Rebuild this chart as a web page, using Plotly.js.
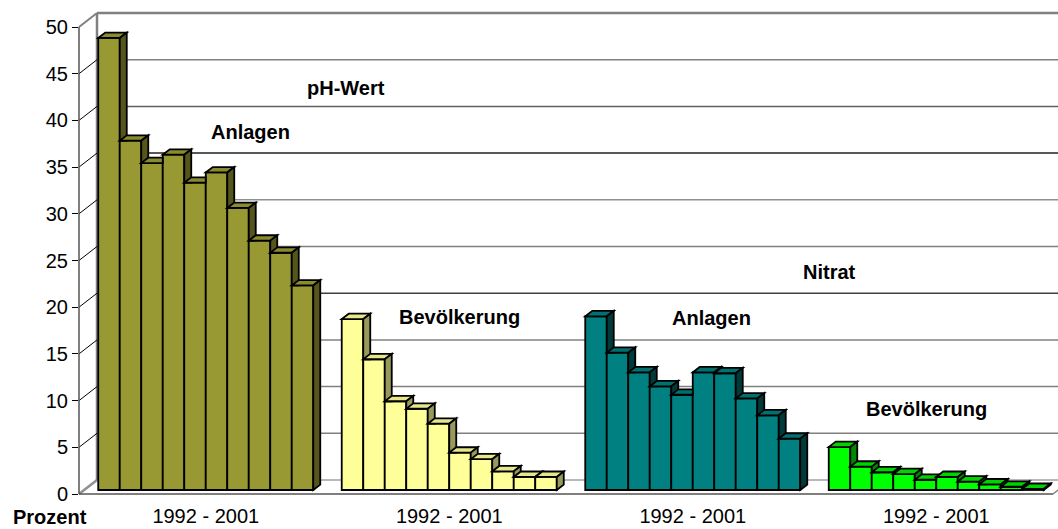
<!DOCTYPE html>
<html>
<head>
<meta charset="utf-8">
<script src="https://cdn.plot.ly/plotly-3.0.1.min.js"></script>
<style>html,body{margin:0;padding:0;background:#fff;}#chart{width:1058px;height:529px;}</style>
</head>
<body>
<div id="chart"></div>
<script>
// ---------- data ----------
const years = [1992, 1993, 1994, 1995, 1996, 1997, 1998, 1999, 2000, 2001];
const periodLabels = ["1992 - 2001", "1992 - 2001", "1992 - 2001", "1992 - 2001"];
const phAnlagen          = [48.4, 37.4, 35.0, 35.9, 32.9, 34.0, 30.2, 26.7, 25.4, 21.9];
const phBevoelkerung     = [18.3, 14.0, 9.5, 8.7, 7.1, 4.0, 3.3, 2.0, 1.4, 1.4];
const nitratAnlagen      = [18.6, 14.7, 12.6, 11.1, 10.2, 12.6, 12.5, 9.8, 8.0, 5.5];
const nitratBevoelkerung = [4.6, 2.5, 1.9, 1.7, 1.1, 1.4, 0.9, 0.6, 0.35, 0.12];
const yTickValues = [0, 5, 10, 15, 20, 25, 30, 35, 40, 45, 50];

// ---------- styling / geometry ----------
const groups = [phAnlagen, phBevoelkerung, nitratAnlagen, nitratBevoelkerung];
const frontColors = ['#999933', '#FFFF99', '#008080', '#00FF00'];
const topColors   = ['#8a8a2e', '#e6e68a', '#007070', '#00d400'];
const sideColors  = ['#55551c', '#99995c', '#003a3a', '#008800'];

const FONT = 'Liberation Sans, Arial, sans-serif';
const PL = 79, PT = 13, PW = 979, PH = 481;        // plot area in px
const Y_RANGE = [0, 51.5];                           // front-plane axis
const PXY = PH / (Y_RANGE[1] - Y_RANGE[0]);          // px per unit
const BAR_SHIFT_PX = 4;                              // bars sit a little behind the front plane
const Y2_RANGE = [Y_RANGE[0] - BAR_SHIFT_PX / PXY, Y_RANGE[1] - BAR_SHIFT_PX / PXY];
const X_RANGE = [(PL - 205.75) / 243.5, (PL + PW - 205.75) / 243.5];
const PXX = PW / (X_RANGE[1] - X_RANGE[0]);
const BARGAP = 0.117;
const NS = years.length;
const BW = (1 - BARGAP) / NS;
const DXU = 7 / PXX, DYU = 5.4 / PXY;                // bar depth in data units
const WALL_DX = 18, WALL_DY = 14;                    // wall depth in px
const EDGE_W = 1.8;

// ---------- traces ----------
const traces = [];
traces.push({type: 'scatter', x: [], y: [], xaxis: 'x', yaxis: 'y', showlegend: false, hoverinfo: 'skip'});
for (let i = 0; i < NS; i++) {
  traces.push({
    type: 'bar',
    name: String(years[i]),
    x: groups.map((g, k) => k),
    y: groups.map(g => g[i]),
    xaxis: 'x', yaxis: 'y2',
    marker: {color: frontColors, line: {color: '#000000', width: EDGE_W}},
    showlegend: false
  });
}

// ---------- 3D faces (shapes computed from the values) ----------
function clipAbove(poly, yc) {
  const out = [];
  const n = poly.length;
  for (let k = 0; k < n; k++) {
    const cur = poly[k], prev = poly[(k + n - 1) % n];
    const cIn = cur[1] >= yc, pIn = prev[1] >= yc;
    const inter = () => { const t = (yc - prev[1]) / (cur[1] - prev[1]); return [prev[0] + t * (cur[0] - prev[0]), yc]; };
    if (cIn) { if (!pIn) out.push(inter()); out.push(cur); }
    else if (pIn) out.push(inter());
  }
  return out;
}
function pathOf(poly) {
  return 'M ' + poly.map(p => p[0].toFixed(5) + ',' + p[1].toFixed(5)).join(' L ') + ' Z';
}
const shapes = [];

// frame (paper coords)
const fx = px => (px - PL) / PW;
const fyFront = v => (v - Y_RANGE[0]) / (Y_RANGE[1] - Y_RANGE[0]);
const fyBack = v => fyFront(v) + WALL_DY / PH;
const bx = fx(PL + WALL_DX);
function pline(x0, y0, x1, y1, color, width) {
  shapes.push({type: 'line', xref: 'paper', yref: 'paper', x0, y0, x1, y1, layer: 'below',
               line: {color, width}});
}
const gridColors = {0: '#a0a0a0', 5: '#808080', 10: '#808080', 15: '#808080', 20: '#404040', 25: '#808080',
                    30: '#909090', 35: '#202020', 40: '#606060', 45: '#808080'};
yTickValues.forEach(v => {
  if (v === 50) return;
  pline(bx, fyBack(v), 1.05, fyBack(v), gridColors[v], 1.5);
});
pline(bx, fyBack(50), 1.05, fyBack(50), '#808080', 2.5);
pline(bx, fyBack(0), bx, fyBack(50), '#808080', 2.5);
yTickValues.forEach(v => {
  if (v === 0 || v === 50) return;
  pline(0, fyFront(v), bx, fyBack(v), '#000000', 1);
});
pline(0, fyFront(50), bx, fyBack(50), '#808080', 2);
pline(0, fyFront(0), bx, fyBack(0), '#909090', 2.5);
pline(0, fyFront(0), 0, fyFront(50), '#555555', 1.5);
const frontRight = fx(1053);
pline(0, fyFront(0), frontRight, fyFront(0), '#555555', 1.5);
pline(frontRight, fyFront(0), frontRight + WALL_DX / PW, fyBack(0), '#808080', 1.5);

// bar faces
groups.forEach((vals, g) => {
  for (let i = 0; i < NS; i++) {
    const xc = g + (i - (NS - 1) / 2) * BW;
    const L = xc - BW / 2, R = xc + BW / 2;
    const v = vals[i];
    const vn = (i < NS - 1) ? vals[i + 1] : -Infinity;
    // top face
    let top;
    if (vn <= v) top = [[L, v], [R, v], [R + DXU, v + DYU], [L + DXU, v + DYU]];
    else if (vn >= v + DYU) top = [[L, v], [R, v], [R, v + DYU], [L + DXU, v + DYU]];
    else {
      const t = (vn - v) / DYU;
      top = [[L, v], [R, v], [R, vn], [R + DXU * t, vn], [R + DXU, v + DYU], [L + DXU, v + DYU]];
    }
    shapes.push({type: 'path', xref: 'x', yref: 'y2', path: pathOf(top), fillcolor: topColors[g],
                 line: {color: '#000000', width: EDGE_W}, layer: 'above'});
    // side face
    let side = [[R, 0], [R + DXU, DYU], [R + DXU, v + DYU], [R, v]];
    if (isFinite(vn)) side = clipAbove(side, vn);
    if (side.length >= 3) {
      shapes.push({type: 'path', xref: 'x', yref: 'y2', path: pathOf(side), fillcolor: sideColors[g],
                   line: {color: '#000000', width: EDGE_W}, layer: 'above'});
    }
  }
});

// ---------- labels ----------
const ax = px => (px - PL) / PW, ay = py => (PT + PH - py) / PH;
function label(text, px, py, bold) {
  return {text: bold ? '<b>' + text + '</b>' : text, xref: 'paper', yref: 'paper', x: ax(px), y: ay(py),
          xanchor: 'center', yanchor: 'middle', showarrow: false, borderpad: 0,
          font: {family: FONT, size: 20, color: '#000000'}};
}
const annotations = [
  label('pH-Wert', 346, 88, true),
  label('Anlagen', 250, 132, true),
  label('Bevölkerung', 459, 317, true),
  label('Nitrat', 829, 272, true),
  label('Anlagen', 711, 318, true),
  label('Bevölkerung', 926, 409, true),
  label('Prozent', 50, 517, true)
];

const layout = {
  width: 1058, height: 529,
  margin: {l: PL, r: 1058 - PL - PW, t: PT, b: 529 - PT - PH, pad: 0},
  paper_bgcolor: '#ffffff', plot_bgcolor: 'rgba(0,0,0,0)',
  showlegend: false,
  barmode: 'group', bargap: BARGAP, bargroupgap: 0,
  font: {family: FONT, size: 20, color: '#000000'},
  xaxis: {range: X_RANGE, tickmode: 'array', tickvals: [0, 1, 2, 3], ticktext: periodLabels,
          showgrid: false, zeroline: false, showline: false, ticks: '', ticklabelstandoff: 8,
          tickfont: {family: FONT, size: 20, color: '#000000'}, fixedrange: true},
  yaxis: {range: Y_RANGE, tickmode: 'array', tickvals: yTickValues, showgrid: false, zeroline: false,
          showline: false, ticks: 'outside', ticklen: 6, tickwidth: 1, tickcolor: '#000000',
          tickfont: {family: FONT, size: 20, color: '#000000'}, fixedrange: true},
  yaxis2: {range: Y2_RANGE, overlaying: 'y', visible: false, showgrid: false, zeroline: false, fixedrange: true},
  shapes: shapes,
  annotations: annotations
};
Plotly.newPlot('chart', traces, layout, {displayModeBar: false, staticPlot: true});
</script>
</body>
</html>
